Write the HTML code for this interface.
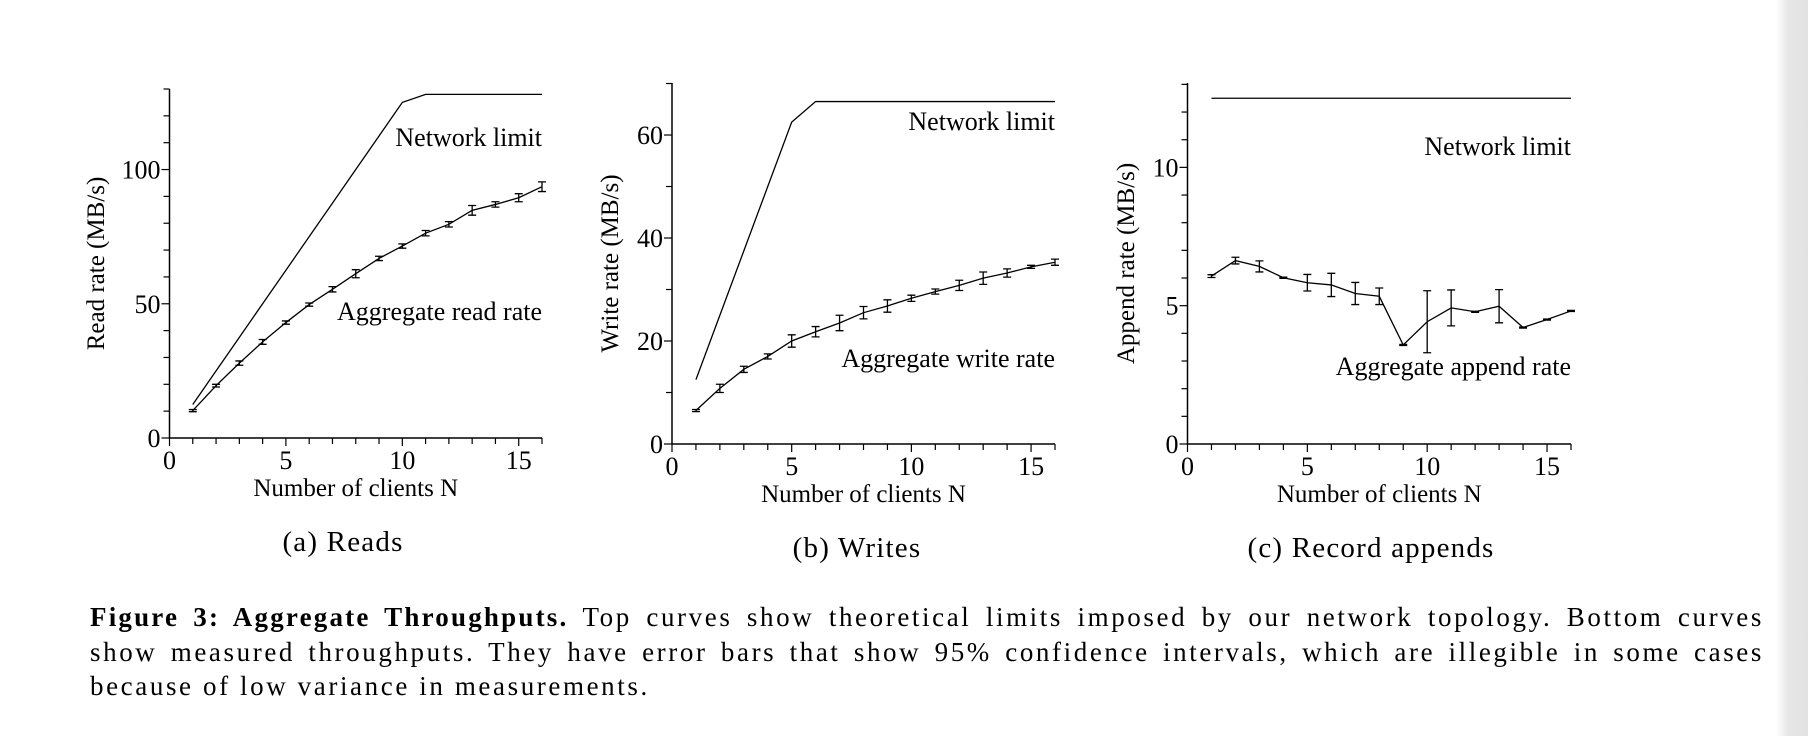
<!DOCTYPE html>
<html><head><meta charset="utf-8">
<style>
html,body{margin:0;padding:0;background:#fff;}
body{width:1808px;height:736px;position:relative;overflow:hidden;font-family:"Liberation Serif",serif;color:#000;}
#edge{position:absolute;left:1776px;top:0;width:32px;height:736px;background:linear-gradient(to right,#fff,#e6e6e6 40%,#e2e2e2);}
.sub{position:absolute;font-size:29px;letter-spacing:1.2px;transform:translateX(-50%);white-space:nowrap;}
#caption{position:absolute;left:90px;top:600px;width:1674px;font-size:27px;line-height:34.6px;letter-spacing:2.6px;}
#caption b{letter-spacing:2.2px;}
#caption .ln{text-align:justify;text-align-last:justify;white-space:nowrap;}
#caption .last{text-align:left;text-align-last:left;}
</style></head><body>
<svg id="fig" width="1808" height="736" style="position:absolute;left:0;top:0" font-family="Liberation Serif, serif"></svg>
<div class="sub" style="left:343px;top:526px">(a) Reads</div>
<div class="sub" style="left:857px;top:532px">(b) Writes</div>
<div class="sub" style="left:1371px;top:532px">(c) Record appends</div>
<div id="caption">
<div class="ln"><b>Figure 3: Aggregate Throughputs.</b> Top curves show theoretical limits imposed by our network topology. Bottom curves</div>
<div class="ln">show measured throughputs. They have error bars that show 95% confidence intervals, which are illegible in some cases</div>
<div class="ln last">because of low variance in measurements.</div>
</div>
<div id="edge"></div>
<script>
const clients = [1,2,3,4,5,6,7,8,9,10,11,12,13,14,15,16];
const readLimit = [12.5,25,37.5,50,62.5,75,87.5,100,112.5,125,128,128,128,128,128,128];
const readRate = [10.2,19.5,27.9,35.8,43,49.7,55.4,61.2,66.9,71.5,76.3,79.6,84.8,87,89.5,93.6];
const readErr = [0.4,0.5,0.8,0.9,0.6,0.6,1.0,1.5,0.8,0.8,1.0,1.0,1.8,1.0,1.5,1.8];
const writeLimit = [12.5,25,37.5,50,62.5,66.5,66.5,66.5,66.5,66.5,66.5,66.5,66.5,66.5,66.5,66.5];
const writeRate = [6.5,10.8,14.5,17,20,21.8,23.5,25.5,26.8,28.3,29.6,30.8,32.2,33.2,34.4,35.3];
const writeErr = [0.2,0.8,0.6,0.5,1.2,1.0,1.5,1.2,1.2,0.6,0.5,1.0,1.2,0.8,0.3,0.6];
const appendLimit = [12.5,12.5,12.5,12.5,12.5,12.5,12.5,12.5,12.5,12.5,12.5,12.5,12.5,12.5,12.5,12.5];
const appendRate = [6.07,6.63,6.42,6.01,5.83,5.75,5.44,5.34,3.58,4.42,4.92,4.78,4.98,4.21,4.5,4.81];
const appendErr = [0.05,0.12,0.2,0.02,0.3,0.42,0.4,0.3,0.02,1.12,0.65,0.02,0.6,0.02,0.02,0.02];
const xTicks = [0,5,10,15];
const readTicks = [0,50,100];
const writeTicks = [0,20,40,60];
const appendTicks = [0,5,10];

const NS="http://www.w3.org/2000/svg";
const svg=document.getElementById('fig');
function mk(tag,attrs,parent){const e=document.createElementNS(NS,tag);for(const k in attrs)e.setAttribute(k,attrs[k]);(parent||svg).appendChild(e);return e;}

function chart(cfg){
  const g=mk('g',{});
  
  
  const sx=v=>cfg.x0+(v/16)*(cfg.x1-cfg.x0);
  const sy=v=>cfg.y0-(v/cfg.ymax)*(cfg.y0-cfg.ytop);
  const axes=mk('path',{d:`M${cfg.x0},${cfg.ytop}V${cfg.y0}H${cfg.x1}`,fill:'none',stroke:'#000','stroke-width':1.5},g);
  
  
  for(let i=0;i<=16;i++){mk('line',{x1:sx(i),x2:sx(i),y1:cfg.y0,y2:cfg.y0+(i%5===0?8:6),stroke:'#000','stroke-width':1.2},g);}
  for(let v=0;v<=cfg.ymax+1e-9;v+=cfg.minor){const big=cfg.yticks.some(t=>Math.abs(t-v)<1e-9);mk('line',{x1:cfg.x0,x2:cfg.x0-(big?8:6),y1:sy(v),y2:sy(v),stroke:'#000','stroke-width':1.2},g);}
  xTicks.forEach(t=>{const e=mk('text',{x:sx(t),y:cfg.y0+31,'font-size':26,'text-anchor':'middle'},g);e.textContent=t;
    
    });
  cfg.yticks.forEach(t=>{const e=mk('text',{x:cfg.x0-9,y:sy(t)+9,'font-size':26,'text-anchor':'end'},g);e.textContent=t;
    
    });
  const xt=mk('text',{x:(cfg.x0+cfg.x1)/2,y:cfg.y0+58,'font-size':25,'text-anchor':'middle'},g);xt.textContent='Number of clients N';
  
  
  const yt=mk('text',{x:0,y:0,'font-size':25,'text-anchor':'middle',transform:`translate(${cfg.ytx},${(cfg.y0+cfg.ytop)/2}) rotate(-90)`},g);yt.textContent=cfg.ytitle;
  
  
  const lim=mk('polyline',{points:clients.map((c,i)=>sx(c)+','+sy(cfg.limit[i])).join(' '),fill:'none',stroke:'#000','stroke-width':1.3},g);
  
  
  const ln=mk('polyline',{points:clients.map((c,i)=>sx(c)+','+sy(cfg.rate[i])).join(' '),fill:'none',stroke:'#000','stroke-width':1.3},g);
  
  
  clients.forEach((c,i)=>{const x=sx(c),a=sy(cfg.rate[i]+cfg.err[i]),b=sy(cfg.rate[i]-cfg.err[i]);
    const eb=mk('path',{d:`M${x},${a}V${b}M${x-4},${a}H${x+4}M${x-4},${b}H${x+4}`,stroke:'#000','stroke-width':1.3,fill:'none'},g);
    
    });
  const l1=mk('text',{x:cfg.x1,y:cfg.l1y,'font-size':26,'text-anchor':'end'},g);l1.textContent='Network limit';
  
  
  const l2=mk('text',{x:cfg.x1,y:cfg.l2y,'font-size':26,'text-anchor':'end'},g);l2.textContent=cfg.l2;
  
  
}
chart({name:'reads-chart',x0:169.5,x1:542,y0:438,ytop:89,ymax:130,yticks:readTicks,minor:10,limit:readLimit,rate:readRate,err:readErr,ytitle:'Read rate (MB/s)',ytx:104,l1y:146,l2y:320,l2:'Aggregate read rate'});
chart({name:'writes-chart',x0:672,x1:1055,y0:444,ytop:83,ymax:70.1,yticks:writeTicks,minor:10,limit:writeLimit,rate:writeRate,err:writeErr,ytitle:'Write rate (MB/s)',ytx:618,l1y:130,l2y:367,l2:'Aggregate write rate'});
chart({name:'appends-chart',x0:1187.5,x1:1571,y0:444,ytop:83,ymax:13.05,yticks:appendTicks,minor:1,limit:appendLimit,rate:appendRate,err:appendErr,ytitle:'Append rate (MB/s)',ytx:1134,l1y:155,l2y:375,l2:'Aggregate append rate'});
</script>
</body></html>
